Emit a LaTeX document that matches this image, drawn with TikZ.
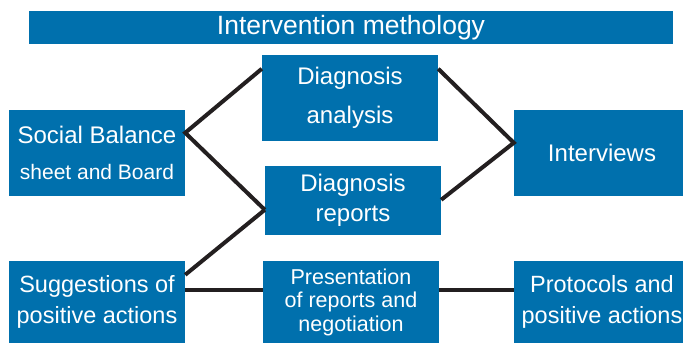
\documentclass[tikz,border=0pt]{standalone}
\usepackage{fontspec}
\setmainfont{Liberation Sans}
\usetikzlibrary{calc}
\definecolor{boxblue}{RGB}{0,112,173}
\definecolor{linkblack}{RGB}{35,31,32}
\tikzset{
  box/.style={fill=boxblue,text=white,align=center,inner sep=0pt,
    minimum width=176pt,minimum height=86pt},
  link/.style={draw=linkblack,line width=4pt}
}
\begin{document}
\begin{tikzpicture}[x=1pt,y=-1pt]
   \useasboundingbox (0,0) rectangle (683,343);
   \node [box,minimum width=644pt,minimum height=33pt,font=\fontsize{26.5}{30}\selectfont] (title) at (351,27.5) {Intervention methology};
   \node [box,font=\fontsize{24}{36}\selectfont] (social) at (97,153) {Social Balance\\{\fontsize{21}{36}\selectfont sheet and Board}};
   \node [box,font=\fontsize{24}{39}\selectfont] (analysis) at (350,98) {Diagnosis\\analysis};
   \node [box,minimum height=69pt,font=\fontsize{24}{30}\selectfont] (reports) at (353,200.5) {Diagnosis\\reports};
   \node [box,font=\fontsize{24}{30}\selectfont] (interviews) at (602,153) {Interviews};
   \node [box,minimum height=82pt,font=\fontsize{23.5}{31}\selectfont] (suggest) at (97,302) {Suggestions of\\positive actions};
   \node [box,minimum height=82pt,font=\fontsize{21.5}{23.5}\selectfont] (present) at (351,302) {Presentation\\of reports and\\negotiation};
   \node [box,minimum height=82pt,font=\fontsize{23.5}{31}\selectfont] (protocols) at (602,302) {Protocols and\\positive actions};
   \draw [link] ($(analysis.north west)+(0,14)$) -- ($(social.north east)+(0,23)$) -- ($(reports.north west)+(0,44)$);
   \draw [link] ($(analysis.north east)+(0,14)$) -- ($(interviews.north west)+(0,33)$) -- ($(reports.north east)+(0,34)$);
   \draw [link] ($(reports.north west)+(0,44)$) -- ($(suggest.north east)+(0,14)$);
   \draw [link] ($(suggest.north east)+(0,29)$) -- ($(present.north west)+(0,29)$);
   \draw [link] ($(present.north east)+(0,29)$) -- ($(protocols.north west)+(0,29)$);
\end{tikzpicture}
\end{document}
